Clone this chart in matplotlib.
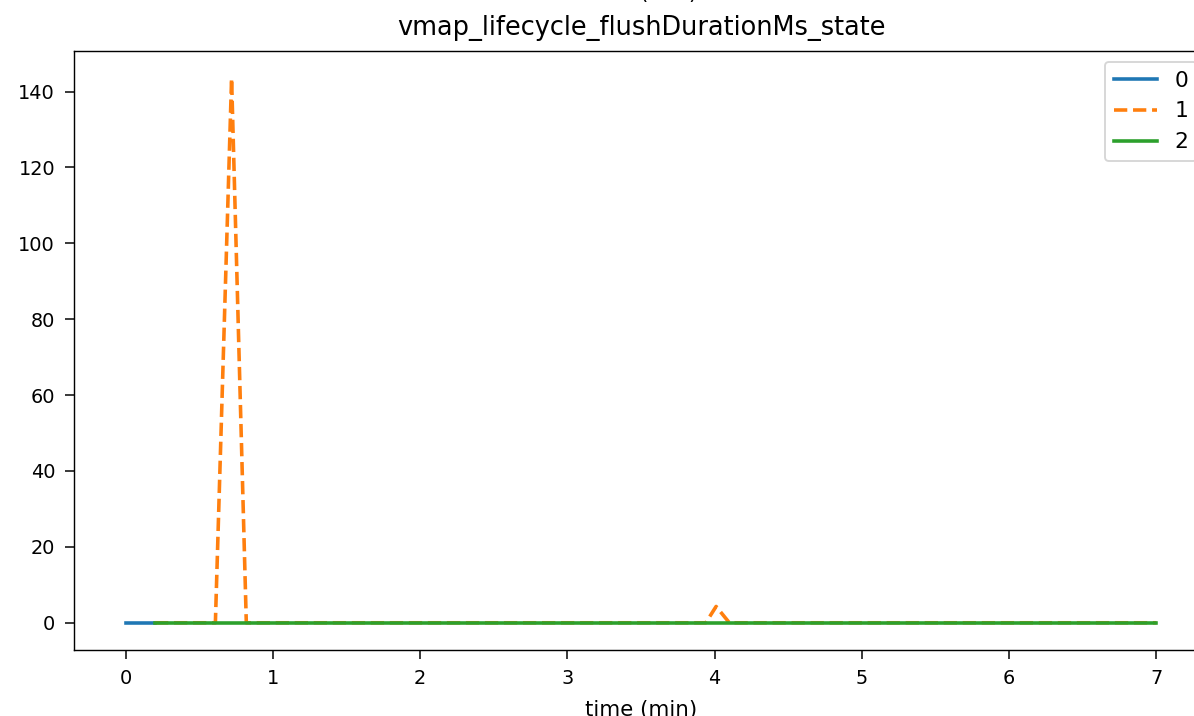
import matplotlib
matplotlib.use("Agg")
import matplotlib.pyplot as plt

# time in minutes, values in ms
t0 = [0.0, 0.2]
v0 = [0.0, 0.0]

t1 = [0.2, 0.61, 0.72, 0.82, 3.94, 4.01, 4.1, 7.0]
v1 = [0.0, 0.0, 143.5, 0.0, 0.0, 4.3, 0.0, 0.0]

t2 = [0.2, 7.0]
v2 = [0.0, 0.0]

series_labels = ["0", "1", "2"]

dpi = 136
W, H = 1194, 716
fig = plt.figure(figsize=(W / dpi, H / dpi), dpi=dpi)

# axes runs past the right edge: the reference is a crop of a bigger figure
left, right, top, bottom = 74, 1208, 51, 650
ax = fig.add_axes([left / W, 1 - bottom / H, (right - left) / W, (bottom - top) / H])

lw = 1.9
ax.plot(t0, v0, color="#1f77b4", linestyle="-", lw=lw, label=series_labels[0])
ax.plot(t1, v1, color="#ff7f0e", linestyle="--", lw=lw, label=series_labels[1])
ax.plot(t2, v2, color="#2ca02c", linestyle="-", lw=lw, label=series_labels[2])

ax.set_title("vmap_lifecycle_flushDurationMs_state", fontsize=13.6, pad=8.5)
ax.set_xlabel("time (min)", fontsize=11.3, labelpad=6.5)
ax.tick_params(labelsize=10.2, length=5, pad=5)
for s in ax.spines.values():
    s.set_linewidth(0.75)
ax.legend(loc="upper right", fontsize=11.5)

# bottom of the x label of the panel above
fig.text(0.5 * (left + right) / W, 1 + 0.5 / H, "time (min)", ha="center",
         va="baseline", fontsize=11.3)

fig.savefig("out.png", dpi=dpi)
